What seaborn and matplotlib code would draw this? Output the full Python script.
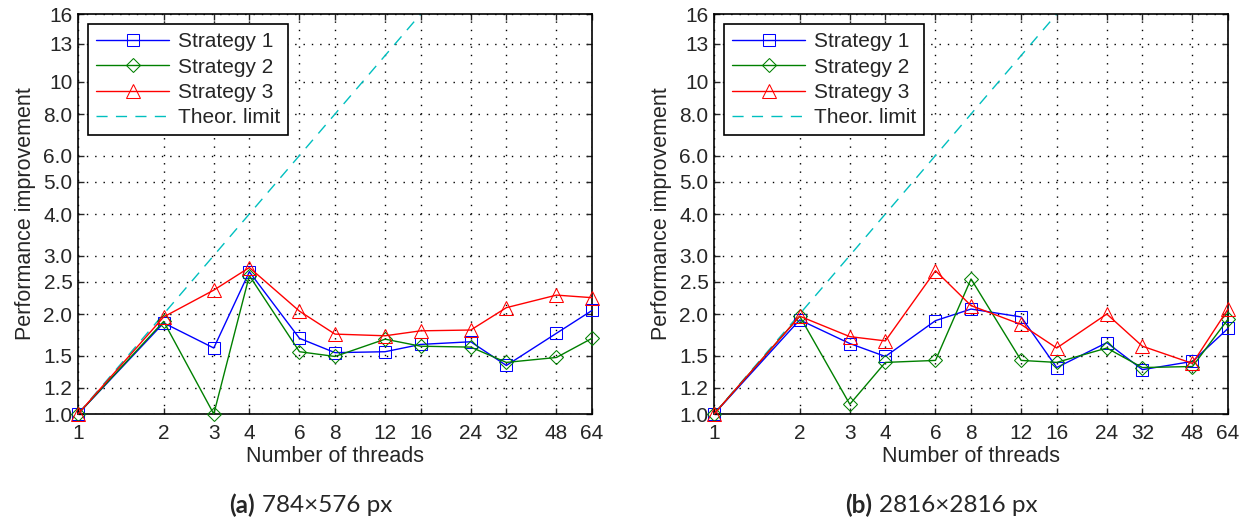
import numpy as np
import pandas as pd
import matplotlib
matplotlib.use("Agg")
import matplotlib.pyplot as plt
import seaborn as sns

threads = [1, 2, 3, 4, 6, 8, 12, 16, 24, 32, 48, 64]
y_ticks = [1.0, 1.2, 1.5, 2.0, 2.5, 3.0, 4.0, 5.0, 6.0, 8.0, 10, 13, 16]
y_tick_labels = ["1.0", "1.2", "1.5", "2.0", "2.5", "3.0", "4.0", "5.0",
                 "6.0", "8.0", "10", "13", "16"]

# (a) 784x576 px
a_s1 = [1.0, 1.88, 1.58, 2.68, 1.69, 1.53, 1.54, 1.62, 1.65, 1.40, 1.75, 2.05]
a_s2 = [1.0, 1.90, 1.00, 2.61, 1.54, 1.49, 1.68, 1.60, 1.59, 1.43, 1.48, 1.69]
a_s3 = [1.0, 1.96, 2.36, 2.76, 2.04, 1.74, 1.72, 1.78, 1.79, 2.09, 2.28, 2.24]

# (b) 2816x2816 px
b_s1 = [1.0, 1.92, 1.63, 1.49, 1.91, 2.07, 1.96, 1.38, 1.64, 1.36, 1.44, 1.81]
b_s2 = [1.0, 1.97, 1.07, 1.43, 1.45, 2.55, 1.45, 1.43, 1.58, 1.38, 1.39, 1.93]
b_s3 = [1.0, 1.97, 1.71, 1.66, 2.70, 2.12, 1.86, 1.58, 2.00, 1.60, 1.42, 2.07]

theor_limit = threads

sns.set_style("ticks")
plt.rcParams['font.family'] = ['Liberation Sans', 'DejaVu Sans']
plt.rcParams['font.size'] = 15

fig = plt.figure(figsize=(12.54, 5.25), dpi=100)
ax_a = fig.add_axes([0.0622, 0.2114, 0.4099, 0.7619])
ax_b = fig.add_axes([0.5694, 0.2114, 0.4099, 0.7619])


def draw_panel(ax, s1, s2, s3, caption_tag, caption_text, tag_x):
    sns.lineplot(x=threads, y=s1, ax=ax, color='blue', marker='s',
                 markersize=9, markerfacecolor='none', markeredgecolor='blue',
                 linewidth=1, label='Strategy 1', clip_on=False, zorder=3)
    sns.lineplot(x=threads, y=s2, ax=ax, color='green', marker='D',
                 markersize=7.5, markerfacecolor='none', markeredgecolor='green',
                 linewidth=1, label='Strategy 2', clip_on=False, zorder=3)
    sns.lineplot(x=threads, y=s3, ax=ax, color='red', marker='^',
                 markersize=10.5, markerfacecolor='none', markeredgecolor='red',
                 linewidth=1, label='Strategy 3', clip_on=False, zorder=3)
    sns.lineplot(x=threads, y=theor_limit, ax=ax, color='#00bfbf',
                 linestyle=(0, (8, 6)), linewidth=1, label='Theor. limit')

    ax.set_xscale('log', base=2)
    ax.set_yscale('log', base=2)
    ax.set_xlim(1, 64)
    ax.set_ylim(1, 16)
    ax.set_xticks(threads)
    ax.set_xticklabels([str(t) for t in threads])
    ax.set_yticks(y_ticks)
    ax.set_yticklabels(y_tick_labels)
    ax.minorticks_off()
    ax.tick_params(direction='in', length=4, width=1, top=True, right=True,
                   labelsize=15, pad=4)
    ax.tick_params(axis='x', pad=7)
    ax.grid(True, color='black', linestyle=(0, (1, 5)), linewidth=1)
    for sp in ax.spines.values():
        sp.set_visible(True)
        sp.set_linewidth(1.2)
        sp.set_color('black')
    ax.set_xlabel('Number of threads', fontsize=15.5, labelpad=2)
    ax.set_ylabel('Performance improvement', fontsize=15.5, labelpad=5)

    leg = ax.legend(loc='upper left', bbox_to_anchor=(0.0195, 0.975),
                    fontsize=15, handlelength=3.5, borderpad=0.4,
                    labelspacing=0.3, handletextpad=0.4, fancybox=False,
                    framealpha=1, borderaxespad=0.0)
    leg.get_frame().set_edgecolor('black')
    leg.get_frame().set_linewidth(1.2)

    ax.text(tag_x, -0.228, caption_tag, transform=ax.transAxes, ha='right',
            va='center', fontsize=17.5, fontweight='bold', family='Lato')
    ax.text(tag_x + 0.014, -0.228, caption_text, transform=ax.transAxes,
            ha='left', va='center', fontsize=17.5, family=['Lato', 'DejaVu Sans'])


draw_panel(ax_a, a_s1, a_s2, a_s3, '(a)', '784\u00d7576 px', 0.344)
draw_panel(ax_b, b_s1, b_s2, b_s3, '(b)', '2816\u00d72816 px', 0.307)

fig.savefig('out.png', dpi=100)
